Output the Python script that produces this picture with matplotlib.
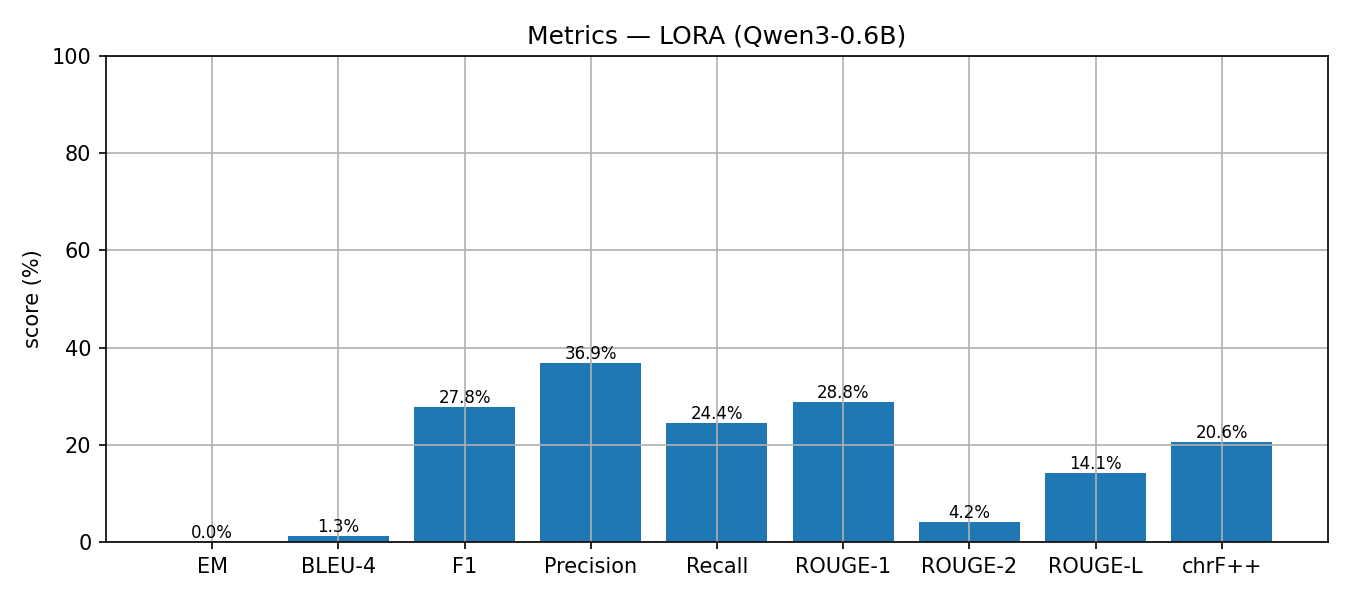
import matplotlib
matplotlib.use("Agg")
import matplotlib.pyplot as plt

metrics = ["EM", "BLEU-4", "F1", "Precision", "Recall", "ROUGE-1", "ROUGE-2", "ROUGE-L", "chrF++"]
scores = [0.0, 1.3, 27.8, 36.9, 24.4, 28.8, 4.2, 14.1, 20.6]

fig, ax = plt.subplots(figsize=(9, 4), dpi=150)
bars = ax.bar(metrics, scores, color="#1f77b4")
for b, v in zip(bars, scores):
    ax.text(b.get_x() + b.get_width() / 2, b.get_height(), f"{v:.1f}%",
            ha="center", va="bottom", fontsize=8)

ax.set_ylim(0, 100)
ax.set_ylabel("score (%)")
ax.set_title("Metrics — LORA (Qwen3-0.6B)")
ax.grid(True)

plt.subplots_adjust(left=0.0785, right=0.9837, top=0.9067, bottom=0.0967)
plt.savefig("out.png", dpi=150)
